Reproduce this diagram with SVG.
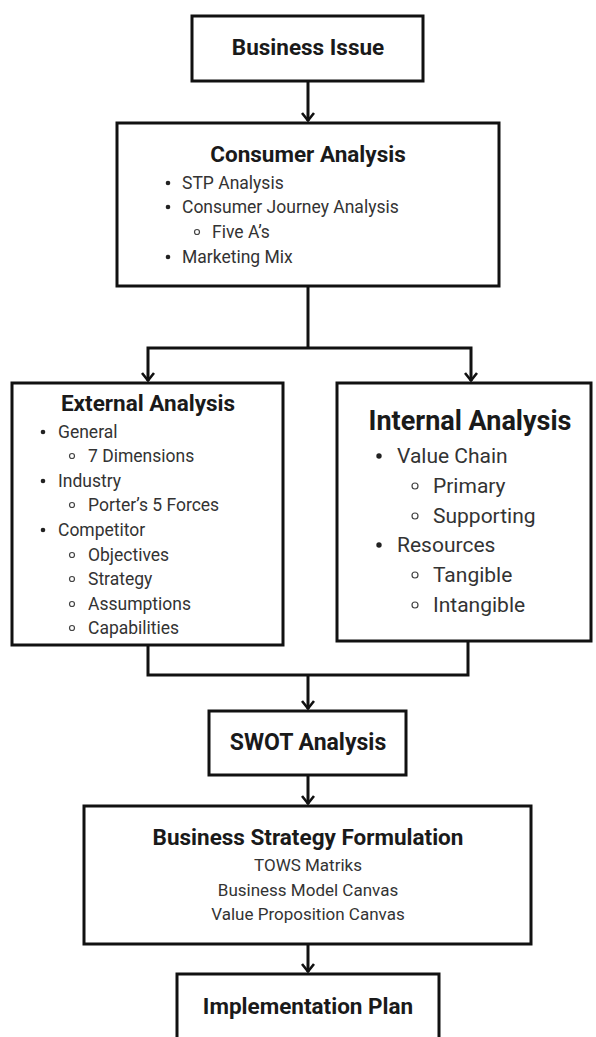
<svg xmlns="http://www.w3.org/2000/svg" width="596" height="1037" viewBox="0 0 596 1037">
<defs>
<marker id="arr" markerWidth="10" markerHeight="14" refX="9" refY="7" orient="auto" markerUnits="userSpaceOnUse" viewBox="0 0 10 14">
<polyline points="1,1 8.5,7 1,13" fill="none" stroke="#111" stroke-width="2.6"/>
</marker>
<style>
.box{fill:#fff;stroke:#111;stroke-width:3}
.t{font-family:Roboto,"Liberation Sans",sans-serif;font-weight:bold;fill:#1a1a1a;text-anchor:middle}
.i{font-family:Roboto,"Liberation Sans",sans-serif;fill:#333}
.dot{fill:#222}
.ring{fill:none;stroke:#444;stroke-width:1.2}
.ln{fill:none;stroke:#111;stroke-width:3}
</style>
</defs>
<rect width="596" height="1037" fill="#fff"/>
<g id="connectors">
<path class="ln" d="M308,81 V121" marker-end="url(#arr)"/>
<path class="ln" d="M308,286 V348"/>
<path class="ln" d="M308,348 H148 V381" marker-end="url(#arr)"/>
<path class="ln" d="M308,348 H471 V381" marker-end="url(#arr)"/>
<path class="ln" d="M148,645 V675 H468 V641"/>
<path class="ln" d="M308,675 V709" marker-end="url(#arr)"/>
<path class="ln" d="M308,775 V804" marker-end="url(#arr)"/>
<path class="ln" d="M308,944 V972" marker-end="url(#arr)"/>
</g>
<g id="business-issue">
<rect class="box" x="192" y="16" width="231" height="65"/>
<text class="t" x="308" y="55" font-size="22.5">Business Issue</text>
</g>
<g id="consumer-analysis">
<rect class="box" x="117" y="123" width="382" height="163"/>
<text class="t" x="308" y="162" font-size="22.5">Consumer Analysis</text>
<g class="i" font-size="17.5">
<circle class="dot" cx="168" cy="183" r="2.3"/><text x="182" y="189">STP Analysis</text>
<circle class="dot" cx="168" cy="207" r="2.3"/><text x="182" y="213">Consumer Journey Analysis</text>
<circle class="ring" cx="197" cy="232" r="2.5"/><text x="212" y="238">Five A’s</text>
<circle class="dot" cx="168" cy="257" r="2.3"/><text x="182" y="263">Marketing Mix</text>
</g>
</g>
<g id="external-analysis">
<rect class="box" x="12" y="383" width="271" height="262"/>
<text class="t" x="148" y="411" font-size="22.5">External Analysis</text>
<g class="i" font-size="17.5">
<circle class="dot" cx="43" cy="432" r="2.3"/><text x="58" y="438">General</text>
<circle class="ring" cx="72" cy="456" r="2.5"/><text x="88" y="462">7 Dimensions</text>
<circle class="dot" cx="43" cy="481" r="2.3"/><text x="58" y="487">Industry</text>
<circle class="ring" cx="72" cy="505" r="2.5"/><text x="88" y="511">Porter’s 5 Forces</text>
<circle class="dot" cx="43" cy="530" r="2.3"/><text x="58" y="536">Competitor</text>
<circle class="ring" cx="72" cy="555" r="2.5"/><text x="88" y="561">Objectives</text>
<circle class="ring" cx="72" cy="579" r="2.5"/><text x="88" y="585">Strategy</text>
<circle class="ring" cx="72" cy="604" r="2.5"/><text x="88" y="610">Assumptions</text>
<circle class="ring" cx="72" cy="628" r="2.5"/><text x="88" y="634">Capabilities</text>
</g>
</g>
<g id="internal-analysis">
<rect class="box" x="337" y="383" width="254" height="258"/>
<text class="t" x="470" y="430" font-size="27">Internal Analysis</text>
<g class="i" font-size="21">
<circle class="dot" cx="379" cy="456" r="2.7"/><text x="397" y="463">Value Chain</text>
<circle class="ring" cx="415" cy="486" r="3"/><text x="433" y="493">Primary</text>
<circle class="ring" cx="415" cy="516" r="3"/><text x="433" y="523">Supporting</text>
<circle class="dot" cx="379" cy="545" r="2.7"/><text x="397" y="552">Resources</text>
<circle class="ring" cx="415" cy="575" r="3"/><text x="433" y="582">Tangible</text>
<circle class="ring" cx="415" cy="605" r="3"/><text x="433" y="612">Intangible</text>
</g>
</g>
<g id="swot-analysis">
<rect class="box" x="209" y="711" width="197" height="64"/>
<text class="t" x="308" y="750" font-size="23">SWOT Analysis</text>
</g>
<g id="business-strategy">
<rect class="box" x="84" y="806" width="447" height="138"/>
<text class="t" x="308" y="845" font-size="22.5">Business Strategy Formulation</text>
<g class="i" font-size="17" text-anchor="middle">
<text x="308" y="871">TOWS Matriks</text>
<text x="308" y="896">Business Model Canvas</text>
<text x="308" y="920">Value Proposition Canvas</text>
</g>
</g>
<g id="implementation-plan">
<rect class="box" x="177" y="974" width="262" height="80"/>
<text class="t" x="308" y="1014" font-size="22.5">Implementation Plan</text>
</g>
</svg>
